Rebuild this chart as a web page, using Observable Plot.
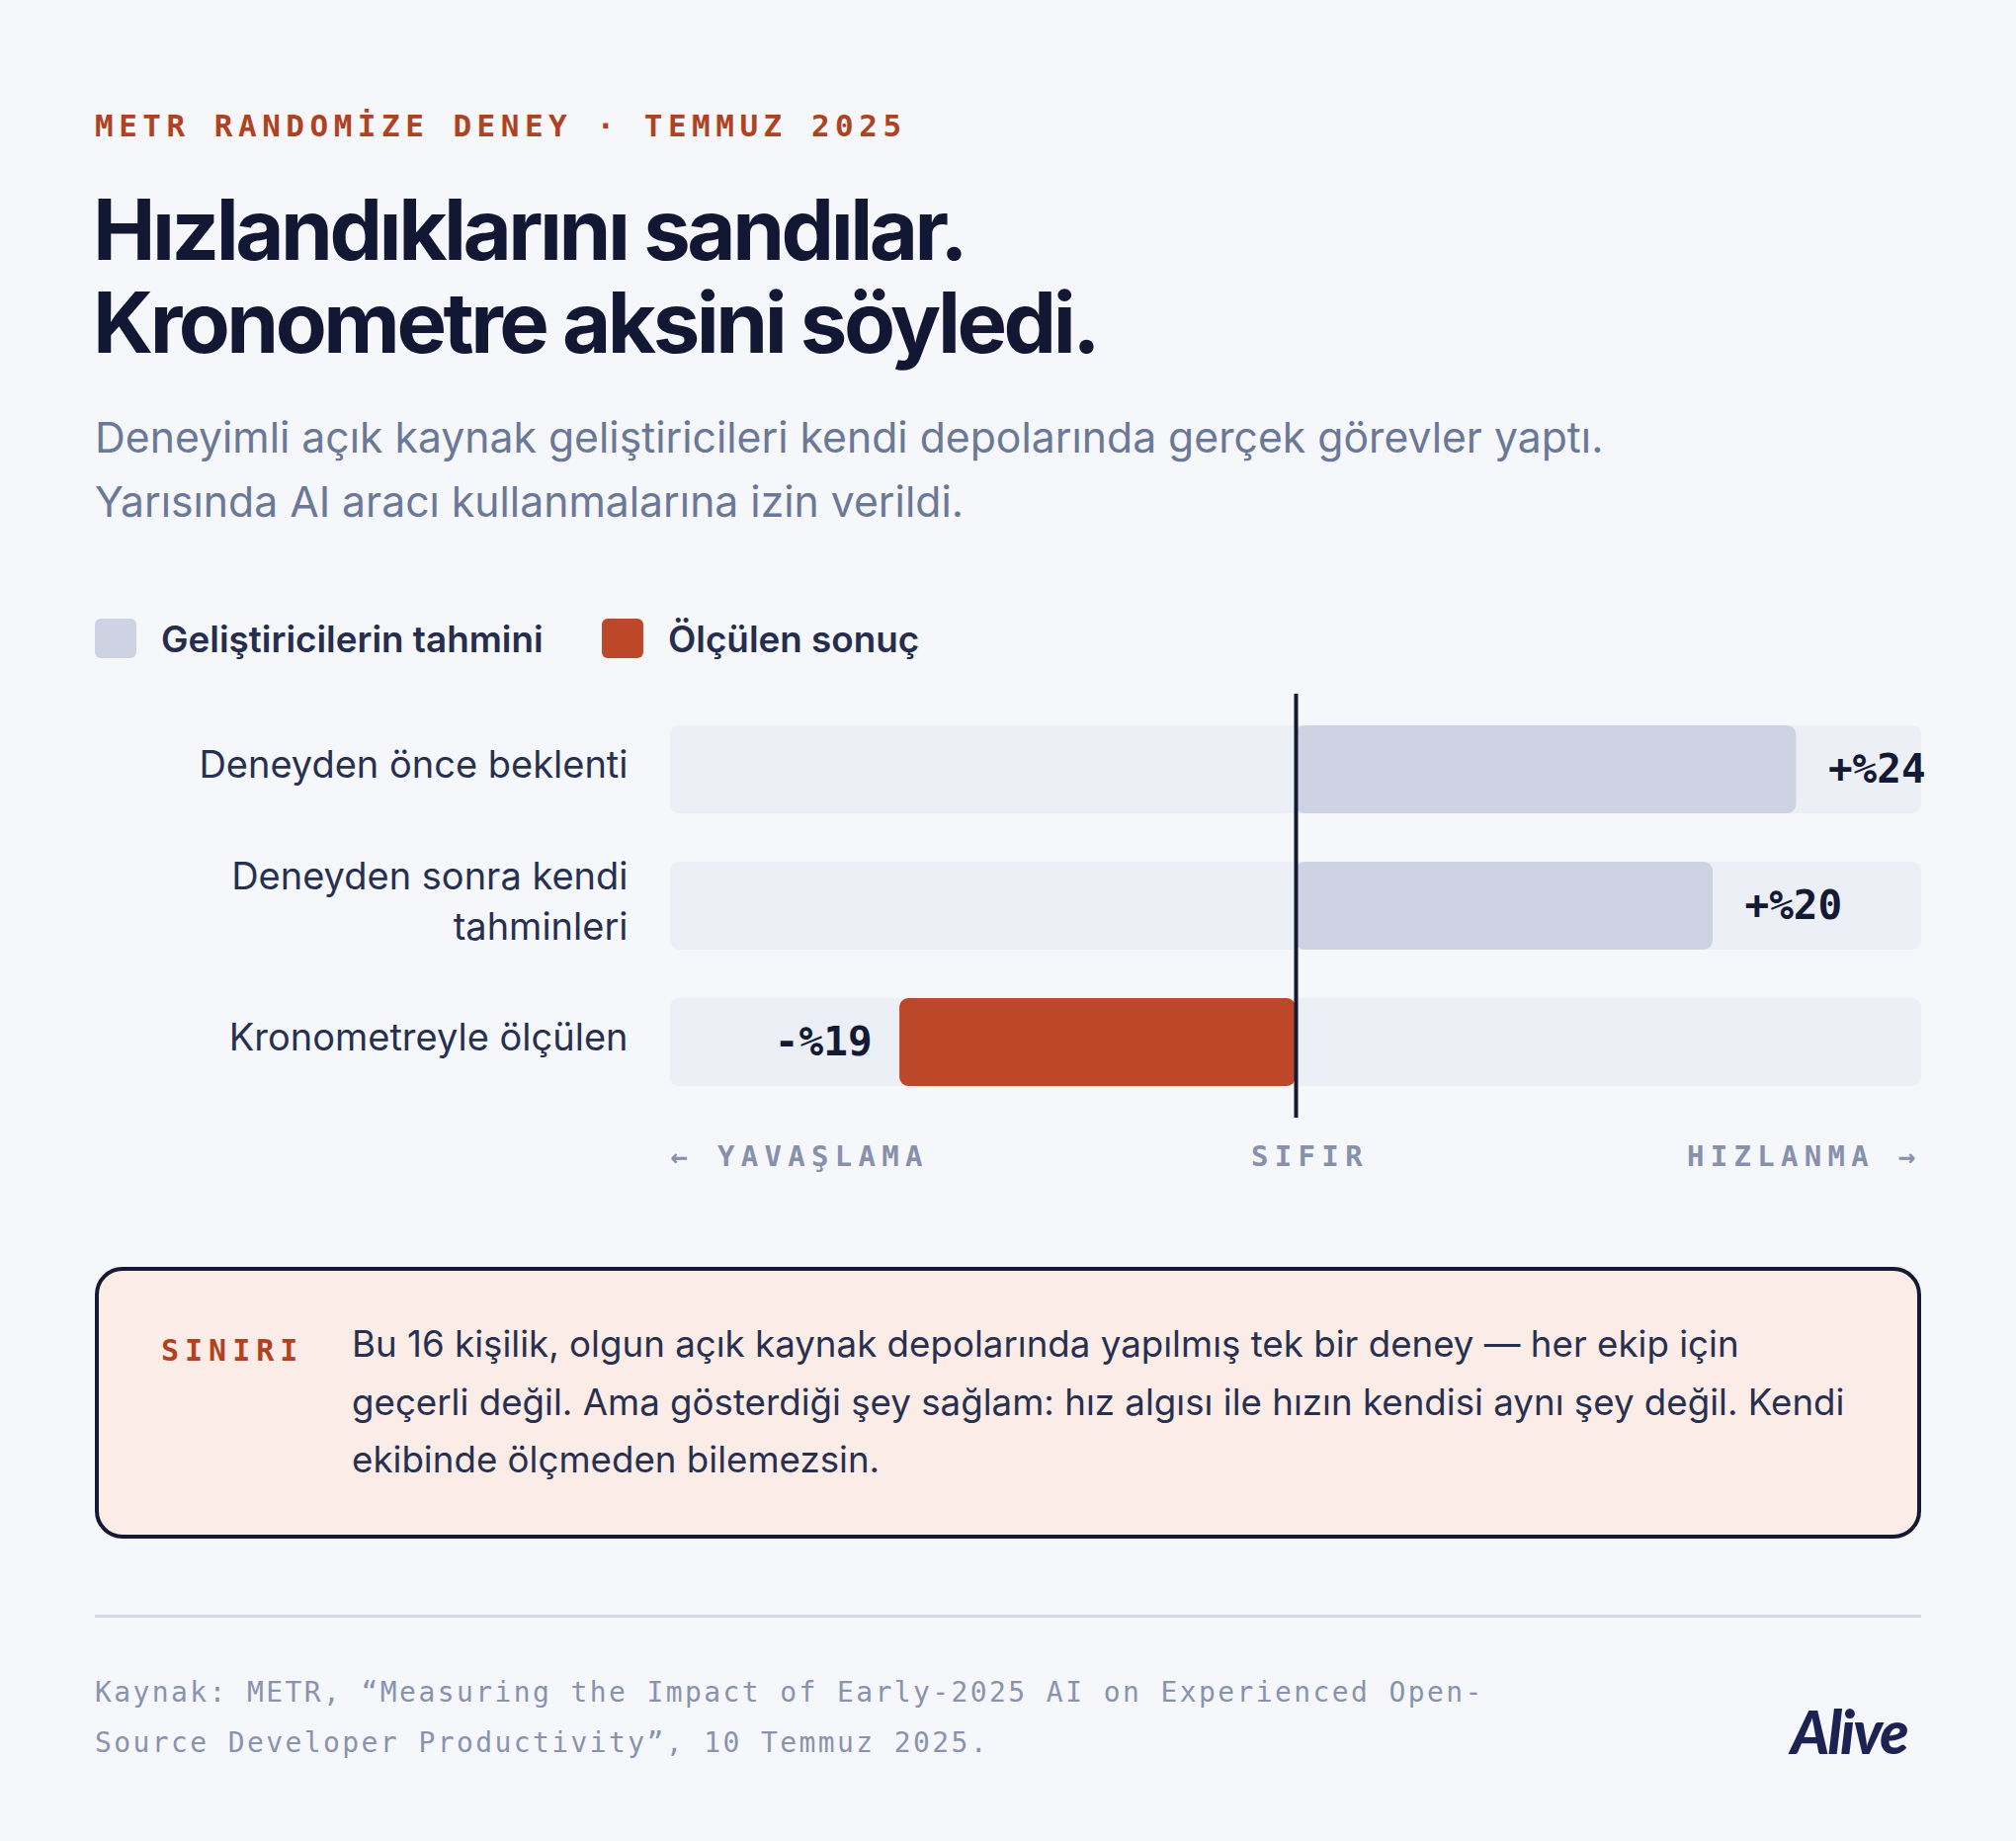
<!DOCTYPE html>
<html><head><meta charset="utf-8">
<script src="https://cdn.jsdelivr.net/npm/d3@7"></script>
<script src="https://cdn.jsdelivr.net/npm/@observablehq/plot@0.6"></script>
<style>
html,body{margin:0;padding:0;background:#f5f7fb;}
#page{position:relative;width:2040px;height:1863px;background:#f5f7fb;overflow:hidden;}
.abs{position:absolute;white-space:nowrap;}
.mono{font-family:"DejaVu Sans Mono",monospace;}
.kicker{left:96px;top:112px;font-size:31px;line-height:31px;font-weight:700;letter-spacing:5.5px;color:#b0421f;}
.title{left:94px;top:186px;font-family:Inter,sans-serif;font-weight:700;font-size:85px;line-height:94px;letter-spacing:-3.5px;color:#121833;}
.sub{left:96px;top:410px;font-family:Inter,sans-serif;font-weight:400;font-size:42.7px;line-height:65px;color:#6b7896;}
.leg{top:626px;height:40px;}
.sw{position:absolute;width:42px;height:40px;border-radius:6px;}
.legt{position:absolute;top:3px;font-family:Inter,sans-serif;font-weight:600;font-size:36.8px;line-height:36px;color:#262d4d;white-space:nowrap;}
#chart{position:absolute;left:0;top:690px;}
.box{position:absolute;left:96px;top:1282px;width:1848px;height:275px;box-sizing:border-box;border:4.5px solid #141a33;border-radius:28px;background:#fcece8;}
.sinir{left:163px;top:1352px;font-size:30px;line-height:30px;font-weight:700;letter-spacing:6px;color:#b0421f;}
.body{left:356px;top:1331px;font-family:Inter,sans-serif;font-size:36.7px;line-height:58.5px;color:#283050;}
.rule{position:absolute;left:96px;top:1634px;width:1848px;height:3px;background:#d5d9e6;}
.src{left:96px;top:1687px;font-size:28px;line-height:51px;letter-spacing:2.4px;color:#8a93ad;}
.logo{left:1812px;top:1722px;font-family:Lato,sans-serif;font-style:italic;font-weight:900;font-size:60px;line-height:60px;letter-spacing:-2px;color:#1c2252;}
</style></head>
<body><div id="page">
<div class="abs mono kicker">METR RANDOMİZE DENEY · TEMMUZ 2025</div>
<div class="abs title">Hızlandıklarını sandılar.<br>Kronometre aksini söyledi.</div>
<div class="abs sub">Deneyimli açık kaynak geliştiricileri kendi depolarında gerçek görevler yaptı.<br>Yarısında AI aracı kullanmalarına izin verildi.</div>
<div class="abs leg" id="legend" style="left:96px;width:1000px;"></div>
<div id="chart"></div>
<div class="box"></div>
<div class="abs mono sinir">SINIRI</div>
<div class="abs body">Bu 16 kişilik, olgun açık kaynak depolarında yapılmış tek bir deney — her ekip için<br>geçerli değil. Ama gösterdiği şey sağlam: hız algısı ile hızın kendisi aynı şey değil. Kendi<br>ekibinde ölçmeden bilemezsin.</div>
<div class="rule"></div>
<div class="abs mono src">Kaynak: METR, “Measuring the Impact of Early-2025 AI on Experienced Open-<br>Source Developer Productivity”, 10 Temmuz 2025.</div>
<div class="abs logo">Alive</div>
</div>
<script>
// ---- data ----
const categories = ["Deneyden önce beklenti", "Deneyden sonra kendi\ntahminleri", "Kronometreyle ölçülen"];
const values = [24, 20, -19];
const valueLabels = ["+%24", "+%20", "-%19"];
const series = ["Geliştiricilerin tahmini", "Geliştiricilerin tahmini", "Ölçülen sonuç"];
const seriesNames = ["Geliştiricilerin tahmini", "Ölçülen sonuç"];
const seriesColors = ["#cdd3e2", "#bd4729"];
const xDomain = [-30, 30];
const axisLabels = ["← YAVAŞLAMA", "SIFIR", "HIZLANMA →"];
const axisPositions = [-30, 0, 30];

const rows = categories.map((c, i) => ({category: c, value: values[i], label: valueLabels[i], series: series[i]}));

// legend
const leg = document.getElementById("legend");
const legX = [0, 513];
seriesNames.forEach((name, i) => {
  const sw = document.createElement("div");
  sw.className = "sw"; sw.style.left = legX[i] + "px"; sw.style.background = seriesColors[i];
  const t = document.createElement("div");
  t.className = "legt"; t.style.left = (legX[i] + 67) + "px"; t.textContent = name;
  leg.appendChild(sw); leg.appendChild(t);
});

const mono = "DejaVu Sans Mono";
const axisStyle = {frameAnchor: "bottom", dy: 48, fontSize: 29, fontWeight: 700, fill: "#8791ab", fontFamily: mono};
const chart = Plot.plot({
  width: 2040,
  height: 500,
  marginLeft: 678,
  marginRight: 96,
  marginTop: 12,
  marginBottom: 59,
  style: {background: "transparent", fontFamily: "Inter"},
  x: {domain: xDomain, axis: null},
  y: {domain: categories, axis: null, paddingInner: 0.353, paddingOuter: 0.22},
  color: {domain: seriesNames, range: seriesColors},
  marks: [
    Plot.barX(rows, {y: "category", x1: xDomain[0], x2: xDomain[1], fill: "#eceff6", rx: 9}),
    Plot.barX(rows, {y: "category", x1: 0, x2: "value", fill: "series", rx: 9}),
    Plot.ruleX([0], {stroke: "#141a33", strokeWidth: 4}),
    Plot.text(rows, {x: xDomain[0], y: "category", text: "category", textAnchor: "end", dx: -43, dy: -8,
      fontSize: 38, lineHeight: 1.35, fill: "#283050", fontFamily: "Inter"}),
    Plot.text(rows.filter(d => d.value >= 0), {x: "value", y: "category", text: "label", textAnchor: "start", dx: 32,
      fontSize: 41, fontWeight: 700, fill: "#141a33", fontFamily: mono}),
    Plot.text(rows.filter(d => d.value < 0), {x: "value", y: "category", text: "label", textAnchor: "end", dx: -28,
      fontSize: 41, fontWeight: 700, fill: "#141a33", fontFamily: mono}),
    Plot.text([axisLabels[0]], {x: axisPositions[0], text: d => d, textAnchor: "start", ...axisStyle}),
    Plot.text([axisLabels[1]], {x: axisPositions[1], text: d => d, textAnchor: "middle", dx: 14, ...axisStyle}),
    Plot.text([axisLabels[2]], {x: axisPositions[2], text: d => d, textAnchor: "end", ...axisStyle})
  ]
});
d3.select(chart).selectAll("text")
  .filter(function() { return axisLabels.includes(this.textContent); })
  .style("letter-spacing", "6.3px");
document.getElementById("chart").appendChild(chart);
</script>
</body></html>
